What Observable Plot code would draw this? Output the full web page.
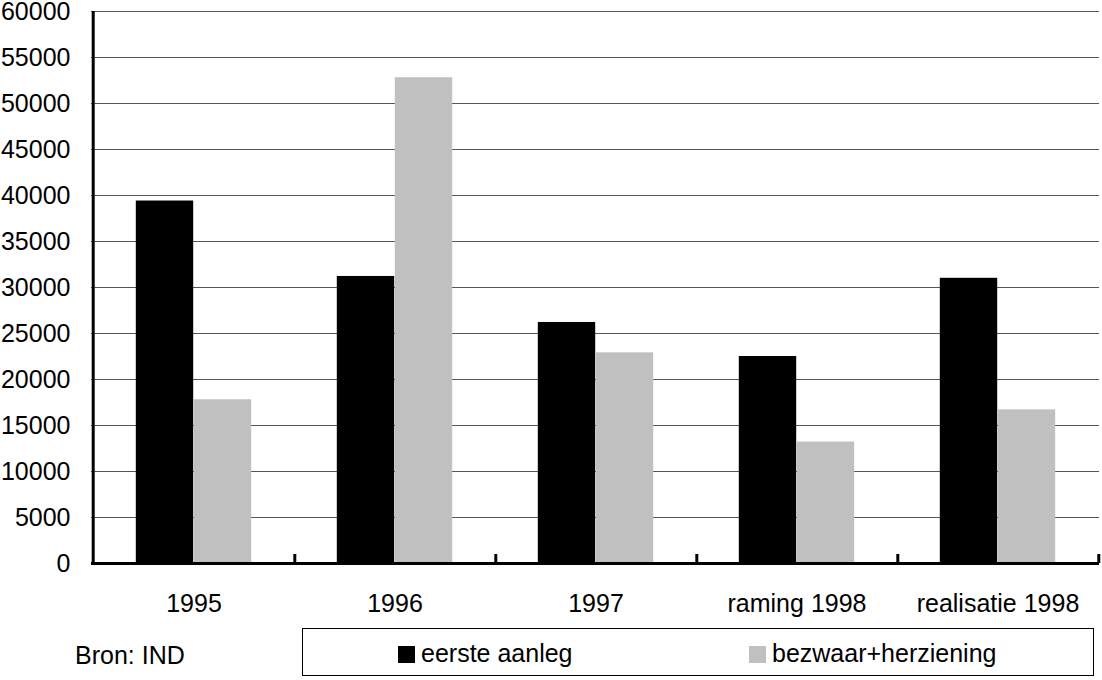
<!DOCTYPE html>
<html>
<head>
<meta charset="utf-8">
<script src="https://cdn.jsdelivr.net/npm/d3@7"></script>
<script src="https://cdn.jsdelivr.net/npm/@observablehq/plot@0.6"></script>
<style>
  html, body { margin: 0; padding: 0; background: #fff; }
  #wrap { position: relative; width: 1102px; height: 680px; font-family: "Liberation Sans", Arial, sans-serif; color: #000; }
  #bron { position: absolute; left: 75px; top: 640px; font-size: 25px; line-height: 30px; }
  #legend { position: absolute; left: 302px; top: 628px; width: 792px; height: 48px; border: 1px solid #000; box-sizing: border-box; font-size: 25px; }
  .item { position: absolute; top: 10px; line-height: 28px; white-space: nowrap; }
  .sw { display: inline-block; width: 17px; height: 17px; margin-right: 6px; vertical-align: -1px; }
</style>
</head>
<body>
<div id="wrap">
  <div id="chart"></div>
  <div id="bron"></div>
  <div id="legend"></div>
</div>
<script>
const categories = ["1995", "1996", "1997", "raming 1998", "realisatie 1998"];
const seriesNames = ["eerste aanleg", "bezwaar+herziening"];
const eersteAanleg = [39400, 31200, 26200, 22500, 31000];
const bezwaarHerziening = [17800, 52800, 22900, 13200, 16700];
const yTicks = [0, 5000, 10000, 15000, 20000, 25000, 30000, 35000, 40000, 45000, 50000, 55000, 60000];
const colors = ["#000000", "#c0c0c0"];
const source = "Bron: IND";

const W = 1102, H = 620, mL = 91, mR = 3, mT = 11, mB = 57;
const step = (W - mL - mR) / categories.length;
const barW = 58;
const outer = (step - 2 * barW) / 2;
const yMax = 60000;
const tickPx = 9;
const tickLen = yMax * tickPx / (H - mT - mB);

const d1 = categories.map((c, i) => ({cat: c, v: eersteAanleg[i]}));
const d2 = categories.map((c, i) => ({cat: c, v: bezwaarHerziening[i]}));

const chart = Plot.plot({
  width: W, height: H,
  marginLeft: mL, marginRight: mR, marginTop: mT, marginBottom: mB,
  style: {fontSize: "25px", fontFamily: "Liberation Sans, Arial, sans-serif", color: "#000", background: "#fff"},
  x: {type: "band", domain: categories, padding: 0, tickSize: 0, tickPadding: 31, label: null},
  y: {domain: [0, yMax], ticks: yTicks, tickSize: 0, tickPadding: 21, tickFormat: d => String(d), label: null},
  marks: [
    Plot.ruleY(yTicks.filter(t => t > 0), {stroke: "#555", strokeWidth: 1.2}),
    Plot.barY(d1, {x: "cat", y: "v", fill: colors[0], insetLeft: outer, insetRight: step - outer - barW}),
    Plot.barY(d2, {x: "cat", y: "v", fill: colors[1], insetLeft: outer + barW, insetRight: outer}),
    Plot.ruleY([0], {stroke: "#000", strokeWidth: 3}),
    Plot.ruleX([categories[0]], {x: d => d, dx: -step / 2, y1: 0, y2: yMax, stroke: "#000", strokeWidth: 3}),
    Plot.ruleX(categories, {x: d => d, dx: step / 2, y1: 0, y2: tickLen, stroke: "#000", strokeWidth: 3})
  ]
});
document.getElementById("chart").appendChild(chart);

document.getElementById("bron").textContent = source;
const legend = document.getElementById("legend");
const lefts = [95, 446];
seriesNames.forEach((name, i) => {
  const it = document.createElement("div");
  it.className = "item";
  it.style.left = lefts[i] + "px";
  const sw = document.createElement("span");
  sw.className = "sw";
  sw.style.background = colors[i];
  it.appendChild(sw);
  it.appendChild(document.createTextNode(name));
  legend.appendChild(it);
});
</script>
</body>
</html>
